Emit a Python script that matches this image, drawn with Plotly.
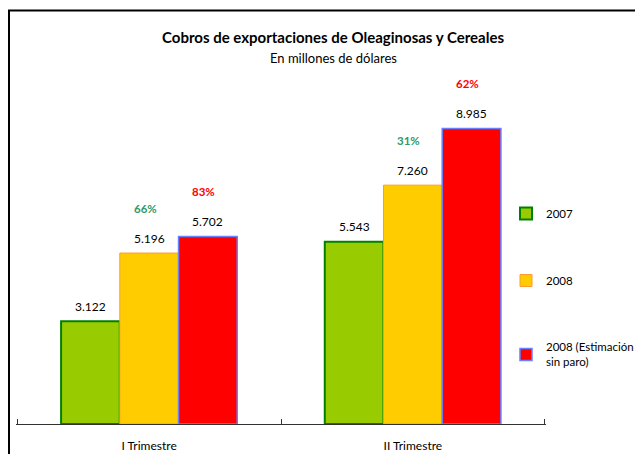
import plotly.graph_objects as go

categories = ["I Trimestre", "II Trimestre"]
series_names = ["2007", "2008", "2008 (Estimación<br>sin paro)"]
values_2007 = [3.122, 5.543]
values_2008 = [5.196, 7.260]
values_2008_est = [5.702, 8.985]
value_labels_2007 = ["3.122", "5.543"]
value_labels_2008 = ["5.196", "7.260"]
value_labels_2008_est = ["5.702", "8.985"]
growth_2008 = ["66%", "31%"]
growth_2008_est = ["83%", "62%"]

FONT = "Lato, 'Open Sans', sans-serif"
fills = ["#99CC00", "#FFCC00", "#FF0000"]
borders = ["#008000", "#FF9933", "#6680FF"]
borderw = [2, 1, 1.5]

# page body has an 8px margin; work in reference pixel coords and subtract it
OFF = 8
W, H = 643 - OFF, 454 - OFF
L, R, B = 16 - OFF, 97, 30
T = 95 - OFF
plot_w = W - L - R
plot_h = H - T - B
YMAX = 10.0
bargap = 0.332
bar_w = (1 - bargap) / 3
n_cat = len(categories)
EPS = 0.005

fig = go.Figure()
all_vals = [values_2007, values_2008, values_2008_est]
for i, (name, vals) in enumerate(zip(series_names, all_vals)):
    fig.add_trace(go.Bar(
        x=categories, y=vals, name=name,
        marker=dict(color=fills[i], line=dict(color=borders[i], width=borderw[i])),
        legendgroup=f"g{i}",
        hoverinfo="skip",
    ))
# empty helper trace so the boundary-tick axis is drawn
fig.add_trace(go.Scatter(x=[], y=[], xaxis="x2", yaxis="y", showlegend=False,
                         hoverinfo="skip"))

annotations = []
all_labels = [value_labels_2007, value_labels_2008, value_labels_2008_est]
for i, (vals, labs) in enumerate(zip(all_vals, all_labels)):
    for c, (v, lab) in enumerate(zip(vals, labs)):
        xc = c + (i - 1) * bar_w
        annotations.append(dict(x=xc, y=v, xref="x", yref="y", text=lab,
                                showarrow=False, yshift=15, yanchor="middle",
                                font=dict(family=FONT, size=12, color="#000000")))

for i, (vals, labs, col) in enumerate([(values_2008, growth_2008, "#339966"),
                                       (values_2008_est, growth_2008_est, "#FF0000")]):
    for c, (v, lab) in enumerate(zip(vals, labs)):
        xc = c + i * bar_w
        annotations.append(dict(x=xc, y=v, xref="x", yref="y", text="<b>" + lab + "</b>",
                                showarrow=False, yshift=45, xshift=-4, yanchor="middle",
                                font=dict(family=FONT, size=11.5, color=col)))

def px_x(px):
    return (px - OFF - L) / plot_w

def px_y(py):
    return (H - B - (py - OFF)) / plot_h

annotations.append(dict(x=px_x(333), y=px_y(36.7), xref="paper", yref="paper",
                        text="<b>Cobros de exportaciones de Oleaginosas y Cereales</b>",
                        showarrow=False, xanchor="center", yanchor="middle",
                        font=dict(family=FONT, size=15, color="#000000")))
annotations.append(dict(x=px_x(333), y=px_y(58.3), xref="paper", yref="paper",
                        text="En millones de dólares",
                        showarrow=False, xanchor="center", yanchor="middle",
                        font=dict(family=FONT, size=13, color="#000000")))

fig.update_layout(
    width=W, height=H,
    margin=dict(l=L, r=R, t=T, b=B, pad=0, autoexpand=False),
    paper_bgcolor="white", plot_bgcolor="white",
    barmode="group", bargap=bargap, bargroupgap=0,
    font=dict(family=FONT, size=12, color="#000000"),
    showlegend=True,
    legend=dict(x=px_x(506), y=px_y(199), xanchor="left", yanchor="top",
                tracegroupgap=48, font=dict(family=FONT, size=11.5, color="#000000"),
                bgcolor="rgba(0,0,0,0)", traceorder="grouped"),
    xaxis=dict(type="category", ticks="", range=[-0.5 - EPS, n_cat - 0.5 + EPS],
               showline=True, linecolor="#333333", linewidth=1,
               showgrid=False, zeroline=False, ticklabelstandoff=11, automargin=False,
               tickfont=dict(family=FONT, size=12, color="#000000")),
    xaxis2=dict(overlaying="x", anchor="y", side="bottom", range=[-EPS, n_cat + EPS],
                tickmode="array", tickvals=list(range(n_cat + 1)),
                ticks="inside", ticklen=5, tickcolor="#333333", tickwidth=1,
                showticklabels=False, showline=False, showgrid=False,
                zeroline=False, automargin=False),
    yaxis=dict(range=[0, YMAX], visible=False, showgrid=False, zeroline=False,
               automargin=False),
    annotations=annotations,
    shapes=[dict(type="rect", xref="paper", yref="paper",
                 x0=px_x(9), x1=px_x(700), y0=px_y(10.5), y1=px_y(520),
                 line=dict(color="#000000", width=2), fillcolor="rgba(0,0,0,0)")],
)

fig.write_html("out.html")
